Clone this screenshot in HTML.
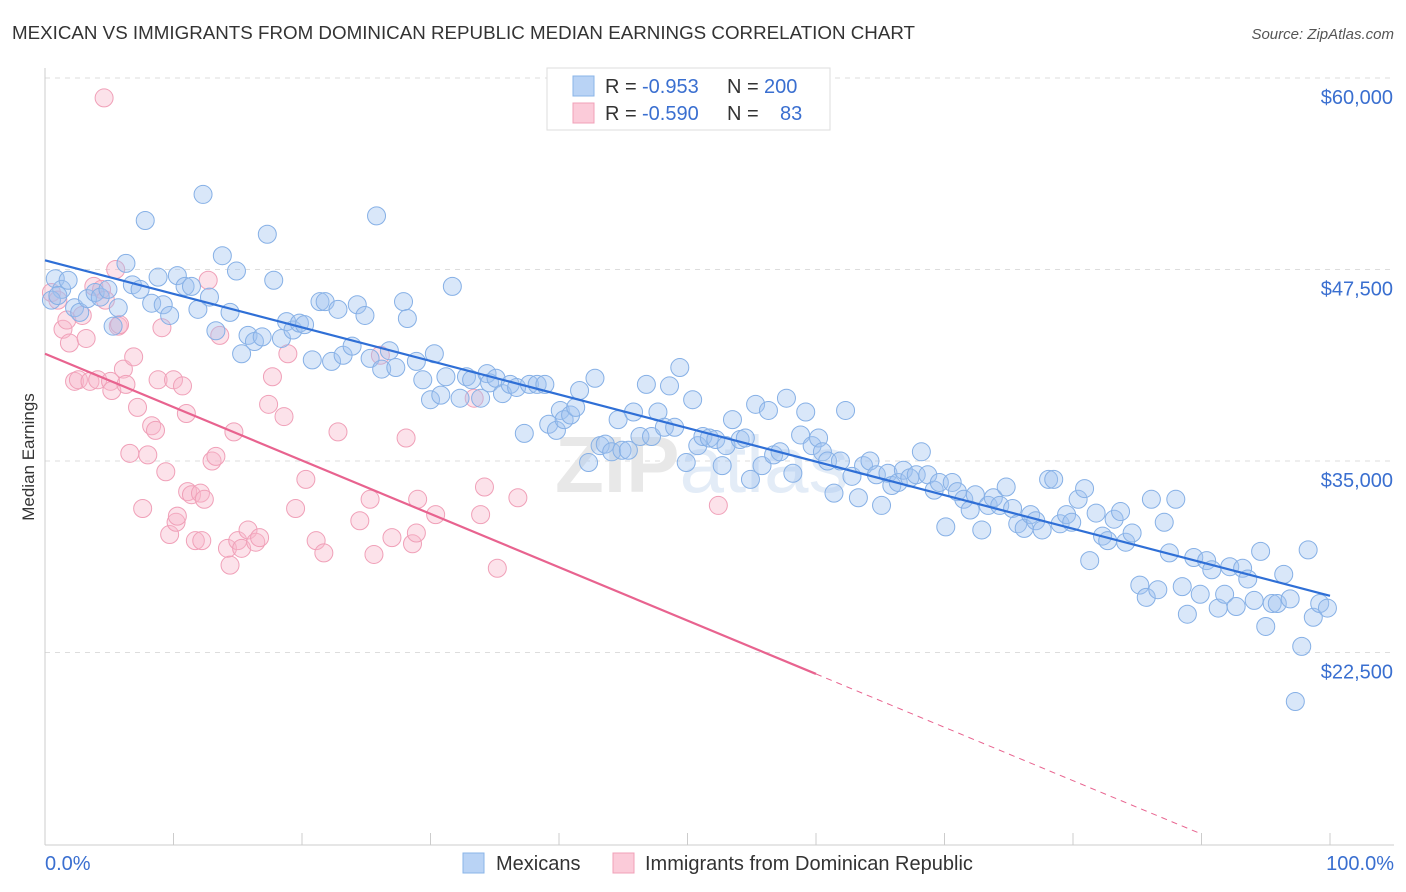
<!DOCTYPE html>
<html><head><meta charset="utf-8"><style>
body{margin:0;background:#fff;font-family:"Liberation Sans",sans-serif;}
svg{display:block}
</style></head><body>
<svg id="chart" width="1406" height="892" font-family="Liberation Sans, sans-serif">
<text x="12" y="39" font-size="18" textLength="903" lengthAdjust="spacingAndGlyphs" fill="#333">MEXICAN VS IMMIGRANTS FROM DOMINICAN REPUBLIC MEDIAN EARNINGS CORRELATION CHART</text>
<text x="1394" y="39" font-size="15" fill="#555" font-style="italic" text-anchor="end">Source: ZipAtlas.com</text>
<text x="34" y="457" font-size="17" fill="#333" text-anchor="middle" transform="rotate(-90 34 457)">Median Earnings</text>
<g id="grid"></g>
<g id="axes"></g>
<text x="555" y="492" font-size="80" font-weight="bold" fill="#e8e8e8">ZIP<tspan fill="#e3ecf7" font-weight="normal">atlas</tspan></text>
<g id="pts"></g>
<g id="lines"></g>
<g>
<rect x="547" y="68" width="283" height="62" fill="#fff" stroke="#ddd"/>
<rect x="573" y="76" width="21" height="20" fill="#b9d3f5" stroke="#8ab4e8"/>
<rect x="573" y="103" width="21" height="20" fill="#fbcbd9" stroke="#f0a0b8"/>
<text x="605" y="93" font-size="20" fill="#333">R = <tspan x="642" fill="#3a6fd0">-0.953</tspan><tspan x="727">N = </tspan><tspan x="764" fill="#3a6fd0">200</tspan></text>
<text x="605" y="120" font-size="20" fill="#333">R = <tspan x="642" fill="#3a6fd0">-0.590</tspan><tspan x="727">N = </tspan><tspan fill="#3a6fd0" x="780">83</tspan></text>
</g>
<g>
<rect x="463" y="853" width="21" height="20" fill="#b9d3f5" stroke="#8ab4e8"/>
<text x="496" y="870" font-size="20" fill="#333">Mexicans</text>
<rect x="613" y="853" width="21" height="20" fill="#fbcbd9" stroke="#f0a0b8"/>
<text x="645" y="870" font-size="20" fill="#333">Immigrants from Dominican Republic</text>
</g>
</svg>
<script>
const yTicks=[60000,47500,35000,22500];
const yTickLabels=["$60,000","$47,500","$35,000","$22,500"];
const xEndLabels=["0.0%","100.0%"];
const blueX=[0.8,1.3,1.8,0.5,1.0,2.3,2.7,3.3,3.9,4.3,4.9,5.3,5.7,6.3,6.8,7.4,7.8,8.3,8.8,9.2,9.7,10.3,10.9,11.4,11.9,12.3,12.8,13.3,13.8,14.4,14.9,15.3,15.8,16.3,16.9,17.3,17.8,18.4,18.8,19.3,19.8,20.2,20.8,21.4,21.8,22.3,22.8,23.2,23.9,24.3,24.9,25.3,25.8,26.2,26.8,27.3,27.9,28.2,28.9,29.4,30.0,30.3,30.8,31.2,31.7,32.3,32.8,33.2,33.9,34.4,34.6,35.1,35.6,36.2,36.7,37.3,37.7,38.3,38.9,39.2,39.8,40.1,40.4,40.9,41.3,41.6,42.3,42.8,43.2,43.6,44.1,44.6,44.9,45.4,45.8,46.3,46.8,47.2,47.7,48.2,48.6,49.0,49.4,49.9,50.4,50.8,51.2,51.7,52.2,52.7,53.0,53.5,54.1,54.5,54.9,55.3,55.8,56.3,56.7,57.2,57.7,58.2,58.8,59.2,59.7,60.2,60.5,60.9,61.4,61.9,62.3,62.8,63.3,63.7,64.2,64.7,65.1,65.6,65.9,66.4,66.8,67.3,67.8,68.2,68.7,69.2,69.6,70.1,70.6,71.0,71.5,72.0,72.4,72.9,73.4,73.8,74.3,74.8,75.3,75.7,76.2,76.7,77.1,77.6,78.1,78.5,79.0,79.5,79.9,80.4,80.9,81.3,81.8,82.3,82.7,83.2,83.7,84.1,84.6,85.2,85.7,86.1,86.6,87.1,87.5,88.0,88.5,88.9,89.4,89.9,90.4,90.8,91.3,91.8,92.2,92.7,93.2,93.6,94.1,94.6,95.0,95.5,95.9,96.4,96.9,97.3,97.8,98.3,98.7,99.2,99.8];
const blueY=[46900,46200,46800,45500,45800,45000,44700,45600,46000,45700,46200,43800,45000,47900,46500,46200,50700,45300,47000,45200,44500,47100,46400,46400,44900,52400,45700,43500,48400,44700,47400,42000,43200,42800,43100,49800,46800,43000,44100,43550,44000,43900,41600,45400,45400,41500,44900,41900,42500,45200,44500,41700,51000,41000,42200,41100,45400,44300,41500,40300,39000,42000,39300,40500,46400,39100,40500,40300,39100,40700,40100,40400,39400,40000,39800,36800,40000,40000,40000,37400,37000,38300,37700,38000,38500,39600,34900,40400,36000,36100,35600,37700,35700,35700,38200,36600,40000,36600,38200,37200,39900,37200,41100,34900,39000,36000,36600,36500,36400,34700,36000,37700,36400,36500,33800,38700,34700,38300,35400,35600,39100,34200,36700,38200,36000,36500,35600,35000,32900,35000,38300,34000,32600,34700,35000,34100,32100,34200,33400,33600,34400,33900,34100,35600,34100,33100,33600,30700,33600,33000,32500,31800,32800,30500,32100,32600,32100,33300,31900,30900,30600,31500,31100,30500,33800,33800,30900,31500,31000,32500,33200,28500,31600,30100,29800,31200,31700,29700,30300,26900,26100,32500,26600,31000,29000,32500,26800,25000,28700,26300,28500,27900,25400,26300,28100,25500,28000,27300,25900,29100,24200,25700,25700,27600,26000,19300,22900,29200,24800,25700,25400];
const pinkX=[4.6,0.5,1.0,1.4,1.7,1.9,2.3,2.6,2.9,3.2,3.5,3.8,4.1,4.4,4.7,5.1,5.2,5.5,5.7,5.8,6.1,6.3,6.6,6.9,7.2,7.6,8.0,8.3,8.6,8.8,9.1,9.4,9.7,10.0,10.2,10.3,10.7,11.0,11.1,11.4,11.7,12.1,12.2,12.4,12.7,13.0,13.3,13.6,14.2,14.4,14.7,15.0,15.3,15.8,16.4,16.7,17.7,17.4,18.6,18.9,19.5,20.3,21.1,21.7,22.8,24.5,25.3,25.6,26.1,27.0,28.1,28.6,28.9,29.0,30.4,33.4,33.9,34.2,35.2,36.8,52.4];
const pinkY=[58700,46000,45500,43600,44200,42700,40200,40300,44500,43000,40200,46400,40300,46200,45500,40200,39600,47500,43800,43900,41000,40000,35500,41800,38500,31900,35400,37300,37000,40300,43700,34300,30200,40300,31000,31400,39900,38100,33000,32800,29800,32900,29800,32500,46800,35000,35300,43200,29300,28200,36900,29800,29300,30500,29700,30000,40500,38700,37900,42000,31900,33800,29800,29000,36900,31100,32500,28900,41900,30000,36500,29600,30300,32500,31500,39100,31500,33300,28000,32600,32100];
const blueLine=[48100,26200];
const pinkLine=[42000,21100];
const pinkSolidEnd=60, pinkDashEnd=90;

const NS="http://www.w3.org/2000/svg";
const X0=45,X1=1330;
const sx=p=>X0+(X1-X0)*p/100;
const sy=v=>78+(60000-v)*191.5/12500;
function mk(tag,attrs,parent){const e=document.createElementNS(NS,tag);for(const k in attrs)e.setAttribute(k,attrs[k]);parent.appendChild(e);return e;}
const grid=document.getElementById('grid'),axes=document.getElementById('axes');
yTicks.forEach((v,i)=>{
  const l=mk('line',{x1:45,x2:1394,y1:sy(v),y2:sy(v),stroke:'#ddd','stroke-dasharray':'5,5'},grid);
  
  
  const t=mk('text',{x:1393,y:sy(v)+26,'font-size':20,fill:'#3a6fd0','text-anchor':'end'},axes);
  t.textContent=yTickLabels[i];
  
  
});
mk('line',{x1:45,x2:45,y1:68,y2:845,stroke:'#ccc'},axes);
mk('line',{x1:45,x2:1394,y1:845,y2:845,stroke:'#ccc'},axes);
for(let i=0;i<=10;i++){
  const t=mk('line',{x1:sx(i*10),x2:sx(i*10),y1:833,y2:845,stroke:'#ccc'},axes);
  
  
}
const xl0=mk('text',{x:45,y:870,'font-size':20,fill:'#3a6fd0'},axes);xl0.textContent=xEndLabels[0];


const xl1=mk('text',{x:1394,y:870,'font-size':20,fill:'#3a6fd0','text-anchor':'end'},axes);xl1.textContent=xEndLabels[1];


const pts=document.getElementById('pts');
pinkX.forEach((x,i)=>{
  const c=mk('circle',{cx:sx(x),cy:sy(pinkY[i]),r:9,fill:'rgba(248,182,202,0.4)',stroke:'#f0a0b8','stroke-width':1},pts);
  
  
});
blueX.forEach((x,i)=>{
  const c=mk('circle',{cx:sx(x),cy:sy(blueY[i]),r:9,fill:'rgba(160,196,240,0.4)',stroke:'#86b0e6','stroke-width':1},pts);
  
  
});
const lines=document.getElementById('lines');
const bl=mk('line',{x1:sx(0),y1:sy(blueLine[0]),x2:sx(100),y2:sy(blueLine[1]),stroke:'#2f6fd6','stroke-width':2.2},lines);


const pv=p=>pinkLine[0]+(pinkLine[1]-pinkLine[0])*p/pinkSolidEnd;
const pl=mk('line',{x1:sx(0),y1:sy(pv(0)),x2:sx(pinkSolidEnd),y2:sy(pv(pinkSolidEnd)),stroke:'#e8638f','stroke-width':2.2},lines);


const pd=mk('line',{x1:sx(pinkSolidEnd),y1:sy(pv(pinkSolidEnd)),x2:sx(pinkDashEnd),y2:sy(pv(pinkDashEnd)),stroke:'#e8638f','stroke-width':1,'stroke-dasharray':'6,5'},lines);


</script>
</body></html>
